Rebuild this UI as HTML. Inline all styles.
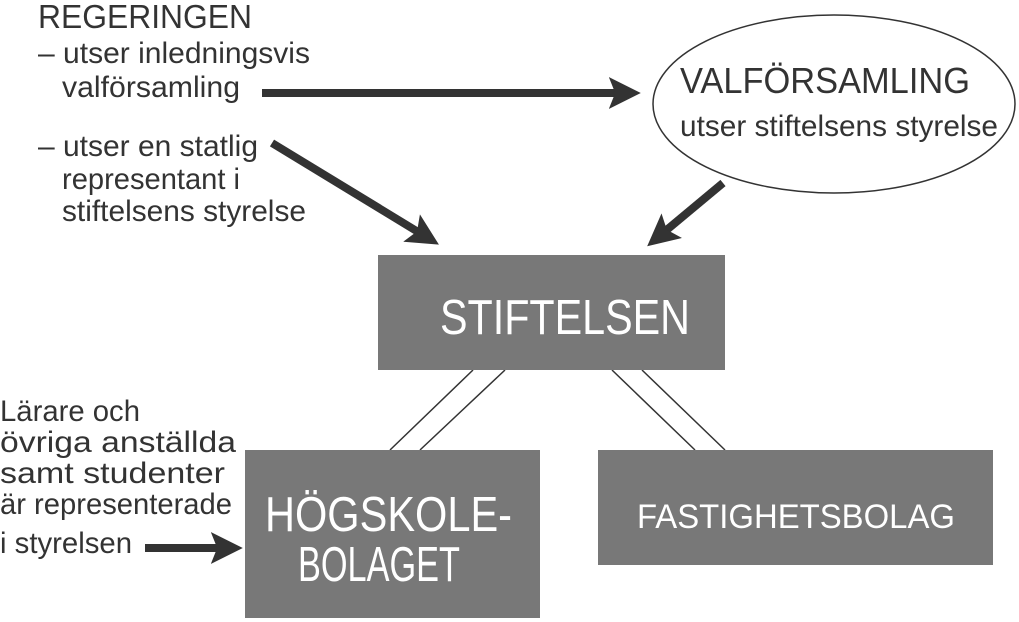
<!DOCTYPE html>
<html><head><meta charset="utf-8"><style>
html,body{margin:0;padding:0;background:#fff;width:1019px;height:622px;overflow:hidden}
text{font-family:"Liberation Sans Narrow","Liberation Sans",sans-serif}
</style></head><body>
<svg width="1019" height="622" viewBox="0 0 1019 622" xmlns="http://www.w3.org/2000/svg">
<defs>
<marker id="ah" viewBox="0 0 10 10" refX="6" refY="5" markerWidth="4" markerHeight="4" orient="auto" markerUnits="strokeWidth">
<path d="M0,0 L10,5 L0,10 L2,5 Z" fill="#333"/>
</marker>
</defs>
<g fill="#333" font-size="30">
<text x="38" y="28" font-size="33" textLength="214" lengthAdjust="spacingAndGlyphs">REGERINGEN</text>
<text x="38" y="63" textLength="272" lengthAdjust="spacingAndGlyphs">– utser inledningsvis</text>
<text x="62" y="97" textLength="178" lengthAdjust="spacingAndGlyphs">valförsamling</text>
<text x="38" y="156" textLength="220" lengthAdjust="spacingAndGlyphs">– utser en statlig</text>
<text x="62" y="189" textLength="178" lengthAdjust="spacingAndGlyphs">representant i</text>
<text x="62" y="221" textLength="244" lengthAdjust="spacingAndGlyphs">stiftelsens styrelse</text>
<text x="0" y="421" textLength="140" lengthAdjust="spacingAndGlyphs">Lärare och</text>
<text x="0" y="452" textLength="236" lengthAdjust="spacingAndGlyphs">övriga anställda</text>
<text x="0" y="483" textLength="225" lengthAdjust="spacingAndGlyphs">samt studenter</text>
<text x="0" y="514" textLength="232" lengthAdjust="spacingAndGlyphs">är representerade</text>
<text x="0" y="553" textLength="132" lengthAdjust="spacingAndGlyphs">i styrelsen</text>
</g>
<ellipse cx="834" cy="104" rx="181" ry="89" fill="none" stroke="#333" stroke-width="1.5"/>
<text x="680" y="93" font-size="36" fill="#333" textLength="290" lengthAdjust="spacingAndGlyphs">VALFÖRSAMLING</text>
<text x="680" y="136" font-size="30" fill="#333" textLength="318" lengthAdjust="spacingAndGlyphs">utser stiftelsens styrelse</text>
<g stroke="#333" stroke-width="8" fill="none" marker-end="url(#ah)">
<line x1="262" y1="93" x2="628" y2="93"/>
<line x1="272" y1="143" x2="428" y2="238"/>
<line x1="723" y1="183" x2="657" y2="238"/>
<line x1="145" y1="548" x2="230" y2="548"/>
</g>
<g stroke="#333" stroke-width="1.5">
<line x1="473" y1="370" x2="390" y2="450"/>
<line x1="505" y1="370" x2="420" y2="450"/>
<line x1="612" y1="370" x2="695" y2="450"/>
<line x1="642" y1="370" x2="725" y2="450"/>
</g>
<g fill="#787878">
<rect x="378" y="255" width="347" height="115"/>
<rect x="245" y="450" width="295" height="168"/>
<rect x="598" y="450" width="395" height="115"/>
</g>
<g fill="#fff">
<text x="440" y="334" font-size="49" textLength="250" lengthAdjust="spacingAndGlyphs">STIFTELSEN</text>
<text x="265" y="531" font-size="49" textLength="247" lengthAdjust="spacingAndGlyphs">HÖGSKOLE-</text>
<text x="298" y="581" font-size="49" textLength="162" lengthAdjust="spacingAndGlyphs">BOLAGET</text>
<text x="637" y="528" font-size="34" textLength="318" lengthAdjust="spacingAndGlyphs">FASTIGHETSBOLAG</text>
</g>
</svg>
</body></html>
